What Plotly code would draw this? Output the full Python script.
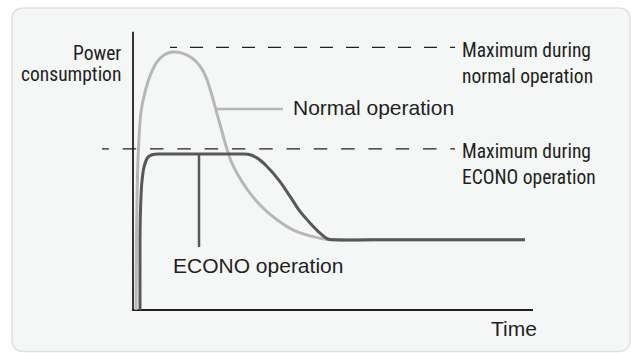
import plotly.graph_objects as go

# ---- data: time runs 0..100, power 0..107 (arbitrary units) ----
normal_t = [0.75, 0.9, 1.25, 2.0, 3.0, 4.25, 6.0, 7.75, 9.75, 12.25, 14.75,
            16.75, 18.25, 19.5, 20.75, 22.0, 23.25, 24.5, 26.25, 28.5, 31.75,
            35.75, 40.0, 44.25, 48.75, 60.0, 98.0]
normal_p = [0, 30.8, 57.7, 76.2, 83.8, 90.0, 95.4, 98.1, 99.2, 98.8, 96.9,
            93.8, 89.6, 83.8, 76.9, 70.0, 63.1, 57.3, 51.9, 46.5, 40.4,
            35.0, 30.8, 28.5, 27.1, 27.0, 27.0]

econo_t = [1.75, 1.75, 1.9, 2.2, 2.75, 3.75, 5.0, 6.75, 17.0, 26.5, 28.75,
           31.0, 33.5, 36.75, 39.25, 41.75, 44.25, 46.75, 48.75, 50.5, 60.0, 98.0]
econo_p = [0, 26.9, 39.6, 48.8, 55.0, 58.8, 59.8, 60.0, 60.0, 60.0, 59.9,
           58.5, 55.2, 49.4, 43.7, 37.9, 33.5, 29.6, 27.3, 27.0, 27.0, 27.0]

normal_max = 101      # maximum during normal operation
econo_max = 62        # maximum during ECONO operation
normal_max_span = [9.25, 80.5]
econo_max_span = [-7.75, 80.5]

normal_leader_t = [20.7, 37.5]
normal_leader_p = 77.3
econo_leader_t = 16.5
econo_leader_p = [60.0, 24.2]

time_end = 100
power_top = 107

# ---- styling ----
W, H = 633, 353
TXT = "#231f20"
LIGHT = "#b7b7b7"
DARK = "#58585a"
NARROW = "Roboto Condensed, Liberation Sans Narrow, sans-serif"
REGULAR = "Liberation Sans, Arial, sans-serif"

fig = go.Figure()

# axes drawn as an L-shaped line through the data scale
fig.add_trace(go.Scatter(x=[0, 0, time_end], y=[power_top, 0, 0], mode="lines",
                         line=dict(color=TXT, width=1.8), hoverinfo="skip"))

# dashed maximum levels
fig.add_trace(go.Scatter(x=normal_max_span, y=[normal_max] * 2, mode="lines",
                         line=dict(color=TXT, width=1.3, dash="7px,13px,6px,0px"),
                         hoverinfo="skip"))
fig.add_trace(go.Scatter(x=econo_max_span, y=[econo_max] * 2, mode="lines",
                         line=dict(color=TXT, width=1.3, dash="6.9px,13.8px,6.6px,0px"),
                         hoverinfo="skip"))

# normal operation curve + leader
fig.add_trace(go.Scatter(x=normal_t, y=normal_p, mode="lines",
                         line=dict(color=LIGHT, width=3, shape="spline", smoothing=0.8),
                         hoverinfo="skip"))
fig.add_trace(go.Scatter(x=normal_leader_t, y=[normal_leader_p] * 2, mode="lines",
                         line=dict(color=LIGHT, width=2.5), hoverinfo="skip"))

# ECONO operation curve + leader
fig.add_trace(go.Scatter(x=econo_t, y=econo_p, mode="lines",
                         line=dict(color=DARK, width=3, shape="spline", smoothing=0.8),
                         hoverinfo="skip"))
fig.add_trace(go.Scatter(x=[econo_leader_t] * 2, y=econo_leader_p, mode="lines",
                         line=dict(color=DARK, width=2.5), hoverinfo="skip"))


def label(text, x, y, font, size, anchor="left"):
    fig.add_annotation(x=x, y=y, xref="x", yref="y", text=text, showarrow=False,
                       xanchor=anchor, yanchor="middle",
                       font=dict(family=font, size=size, color=TXT))


label("Power", -2.5, 98.65, NARROW, 19.5, "right")
label("consumption", -2.5, 90.58, NARROW, 19.5, "right")
label("Maximum during", 81.75, 99.69, NARROW, 19.5)
label("normal operation", 81.75, 89.69, NARROW, 19.5)
label("Maximum during", 81.75, 60.85, NARROW, 19.5)
label("ECONO operation", 81.75, 50.96, NARROW, 19.5)
label("Normal operation", 39.4, 77.8, REGULAR, 21)
label("ECONO operation", 9.4, 17.3, REGULAR, 21)
label("Time", 89, -7.08, REGULAR, 21)

# rounded background panel (paper coordinates)
x0, x1, y0, y1, r = 12, 630, 8, 351.5, 12


def fx(px):
    return px / W


def fy(py):
    return 1 - py / H


panel = (
    f"M {fx(x0 + r)},{fy(y0)} L {fx(x1 - r)},{fy(y0)} "
    f"Q {fx(x1)},{fy(y0)} {fx(x1)},{fy(y0 + r)} "
    f"L {fx(x1)},{fy(y1 - r)} Q {fx(x1)},{fy(y1)} {fx(x1 - r)},{fy(y1)} "
    f"L {fx(x0 + r)},{fy(y1)} Q {fx(x0)},{fy(y1)} {fx(x0)},{fy(y1 - r)} "
    f"L {fx(x0)},{fy(y0 + r)} Q {fx(x0)},{fy(y0)} {fx(x0 + r)},{fy(y0)} Z"
)
fig.add_shape(type="path", path=panel, xref="paper", yref="paper", layer="below",
              fillcolor="#f5f7f7", line=dict(color="#dfe1e1", width=1.5))

# data range chosen so the axes sit at the panel's inner origin
px_per_t = 4.0
px_per_p = 2.6
origin_x, origin_y = 133, 310
fig.update_layout(
    width=W, height=H,
    margin=dict(l=0, r=0, t=0, b=0),
    paper_bgcolor="white",
    plot_bgcolor="rgba(0,0,0,0)",
    showlegend=False,
    hovermode=False,
    xaxis=dict(range=[-origin_x / px_per_t, (W - origin_x) / px_per_t],
               visible=False, fixedrange=True),
    yaxis=dict(range=[(origin_y - H) / px_per_p, origin_y / px_per_p],
               visible=False, fixedrange=True),
)

fig.write_html("out.html", config={"displayModeBar": False})
